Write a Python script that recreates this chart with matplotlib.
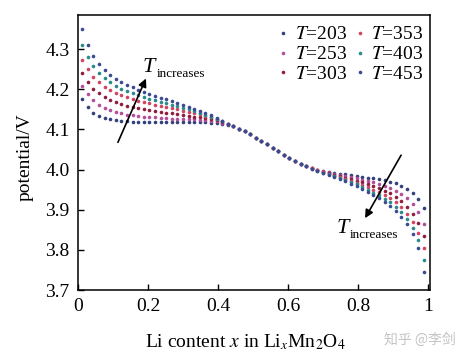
import matplotlib
matplotlib.use("Agg")
import matplotlib.pyplot as plt

plt.rcParams['font.family'] = ['Liberation Serif', 'DejaVu Serif']
plt.rcParams['mathtext.fontset'] = 'stix'

x = [0.012, 0.028, 0.044, 0.060, 0.076, 0.092, 0.108, 0.124, 0.140, 0.156, 0.172, 0.188, 0.204,
     0.220, 0.236, 0.252, 0.268, 0.284, 0.300, 0.316, 0.332, 0.348, 0.364, 0.380, 0.396, 0.412,
     0.428, 0.444, 0.460, 0.476, 0.492, 0.508, 0.524, 0.540, 0.556, 0.572, 0.588, 0.604, 0.620,
     0.636, 0.652, 0.668, 0.684, 0.700, 0.716, 0.732, 0.748, 0.764, 0.780, 0.796, 0.812, 0.828,
     0.844, 0.860, 0.876, 0.892, 0.908, 0.924, 0.940, 0.956, 0.972, 0.988]

v203 = [4.175, 4.155, 4.142, 4.134, 4.129, 4.125, 4.123, 4.121, 4.120, 4.119, 4.119, 4.118, 4.118,
        4.118, 4.118, 4.118, 4.118, 4.118, 4.118, 4.118, 4.118, 4.118, 4.118, 4.117, 4.116, 4.114,
        4.111, 4.108, 4.102, 4.095, 4.088, 4.080, 4.072, 4.064, 4.055, 4.046, 4.037, 4.029, 4.021,
        4.014, 4.008, 4.004, 4.000, 3.997, 3.994, 3.992, 3.990, 3.988, 3.986, 3.984, 3.982, 3.980,
        3.978, 3.976, 3.973, 3.970, 3.966, 3.960, 3.952, 3.943, 3.928, 3.905]

v253 = [4.208, 4.188, 4.173, 4.162, 4.154, 4.148, 4.143, 4.140, 4.137, 4.135, 4.133, 4.132, 4.131,
        4.130, 4.129, 4.128, 4.127, 4.126, 4.126, 4.125, 4.125, 4.124, 4.123, 4.122, 4.120, 4.117,
        4.113, 4.108, 4.102, 4.095, 4.088, 4.080, 4.072, 4.064, 4.055, 4.046, 4.037, 4.029, 4.021,
        4.014, 4.008, 4.004, 3.999, 3.996, 3.993, 3.990, 3.987, 3.984, 3.981, 3.978, 3.975, 3.972,
        3.968, 3.964, 3.960, 3.955, 3.948, 3.939, 3.930, 3.915, 3.895, 3.865]

v303 = [4.240, 4.218, 4.202, 4.190, 4.181, 4.174, 4.168, 4.163, 4.159, 4.156, 4.153, 4.150, 4.148,
        4.146, 4.144, 4.142, 4.140, 4.138, 4.136, 4.134, 4.132, 4.130, 4.128, 4.126, 4.123, 4.119,
        4.114, 4.108, 4.102, 4.095, 4.088, 4.080, 4.072, 4.064, 4.055, 4.046, 4.037, 4.029, 4.021,
        4.014, 4.008, 4.003, 3.999, 3.995, 3.991, 3.987, 3.984, 3.980, 3.976, 3.972, 3.968, 3.964,
        3.959, 3.954, 3.948, 3.941, 3.933, 3.922, 3.908, 3.890, 3.868, 3.835]

v353 = [4.272, 4.250, 4.232, 4.218, 4.207, 4.198, 4.191, 4.185, 4.180, 4.176, 4.172, 4.168, 4.165,
        4.162, 4.159, 4.156, 4.153, 4.150, 4.147, 4.144, 4.141, 4.138, 4.134, 4.130, 4.125, 4.120,
        4.114, 4.108, 4.102, 4.095, 4.088, 4.080, 4.072, 4.064, 4.055, 4.046, 4.037, 4.029, 4.021,
        4.014, 4.008, 4.003, 3.998, 3.994, 3.990, 3.985, 3.981, 3.977, 3.972, 3.967, 3.962, 3.956,
        3.950, 3.944, 3.937, 3.929, 3.919, 3.906, 3.890, 3.870, 3.843, 3.805]

v403 = [4.310, 4.280, 4.258, 4.241, 4.228, 4.218, 4.209, 4.202, 4.196, 4.190, 4.185, 4.181, 4.177,
        4.173, 4.169, 4.165, 4.161, 4.158, 4.154, 4.150, 4.146, 4.142, 4.137, 4.132, 4.126, 4.120,
        4.114, 4.108, 4.102, 4.095, 4.088, 4.080, 4.072, 4.064, 4.055, 4.046, 4.037, 4.029, 4.021,
        4.014, 4.008, 4.002, 3.997, 3.992, 3.988, 3.983, 3.978, 3.974, 3.968, 3.963, 3.957, 3.950,
        3.943, 3.936, 3.928, 3.919, 3.908, 3.894, 3.877, 3.855, 3.825, 3.775]

v453 = [4.350, 4.310, 4.283, 4.263, 4.248, 4.236, 4.226, 4.218, 4.211, 4.205, 4.199, 4.194, 4.189,
        4.184, 4.179, 4.175, 4.170, 4.166, 4.161, 4.157, 4.152, 4.147, 4.141, 4.135, 4.128, 4.121,
        4.114, 4.108, 4.102, 4.095, 4.088, 4.080, 4.072, 4.064, 4.055, 4.046, 4.037, 4.029, 4.021,
        4.014, 4.008, 4.002, 3.996, 3.991, 3.986, 3.981, 3.976, 3.971, 3.965, 3.959, 3.952, 3.945,
        3.937, 3.929, 3.920, 3.909, 3.897, 3.882, 3.864, 3.840, 3.806, 3.745]

temps = [203, 253, 303, 353, 403, 453]
series = [v203, v253, v303, v353, v403, v453]
colors = ['#33407a', '#b0509a', '#8e1e3e', '#d04662', '#2a8a8c', '#3a4a92']

fig = plt.figure(figsize=(4.7, 3.59), dpi=100)
ax = fig.add_axes([0.166, 0.192, 0.749, 0.766])

for T, v, c in zip(temps, series, colors):
    ax.plot(x, v, linestyle='none', marker='o', ms=2.6, mew=0, color=c, label=f'$T$=' + str(T))

ax.set_xlim(0, 1.0057)
ax.set_ylim(3.7, 4.385)
ax.set_xticks([0, 0.2, 0.4, 0.6, 0.8, 1.0])
ax.set_xticklabels(['0', '0.2', '0.4', '0.6', '0.8', '1'])
ax.set_yticks([3.7, 3.8, 3.9, 4.0, 4.1, 4.2, 4.3])
ax.set_yticklabels(['3.7', '3.8', '3.9', '4.0', '4.1', '4.2', '4.3'])
ax.tick_params(direction='in', length=4, width=1, labelsize=14, top=False, right=False, pad=6)
for s in ax.spines.values():
    s.set_linewidth(1.1)

ax.set_xlabel(r'Li content $x$ in Li$_x$Mn$_2$O$_4$', fontsize=14)
ax.xaxis.set_label_coords(0.474, -0.155)
ax.set_ylabel('potential/V', fontsize=14)
ax.yaxis.set_label_coords(-0.125, 0.484)

leg = ax.legend(ncol=2, loc='upper right', bbox_to_anchor=(1.012, 1.0), frameon=False, fontsize=14,
                markerscale=1.0, handlelength=0.6, handletextpad=0.3, columnspacing=0.35,
                labelspacing=0.12, borderaxespad=0.15)

arrow = dict(arrowstyle='-|>', color='black', lw=1.2, mutation_scale=12, shrinkA=0, shrinkB=0)
ax.annotate('', xy=(0.194, 4.227), xytext=(0.114, 4.068), arrowprops=arrow)
ax.annotate('', xy=(0.820, 3.879), xytext=(0.923, 4.036), arrowprops=arrow)

ax.text(0.203, 4.255, 'T', fontsize=16, style='italic', ha='center', va='center')
ax.text(0.226, 4.238, 'increases', fontsize=9.5, ha='left', va='center')
ax.text(0.757, 3.854, 'T', fontsize=16, style='italic', ha='center', va='center')
ax.text(0.777, 3.838, 'increases', fontsize=9.5, ha='left', va='center')

fig.text(0.893, 0.053, '知乎 @李剑', fontsize=10, color='#c4c4c4', ha='center', va='center',
         family=['Noto Sans CJK SC', 'DejaVu Sans'])

fig.savefig('out.png', dpi=100)
